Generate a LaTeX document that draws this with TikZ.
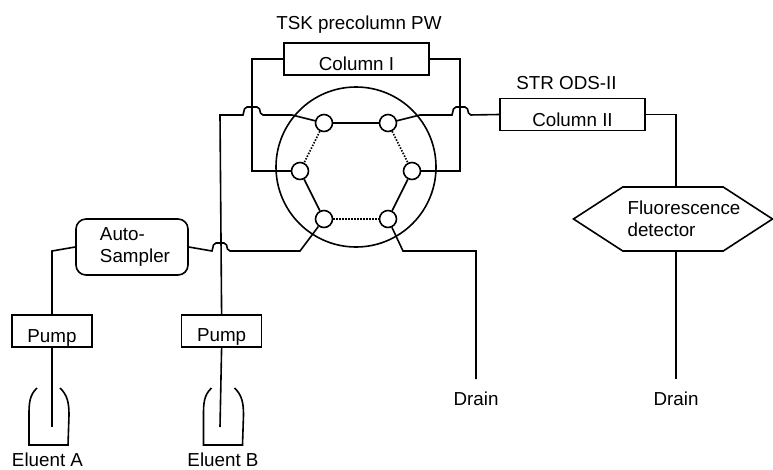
\documentclass[tikz,border=0pt]{standalone}
\usepackage{fontspec}
\setmainfont{Liberation Sans}
\usetikzlibrary{arrows.meta,positioning,shapes.symbols,calc}

\begin{document}
\begin{tikzpicture}[
  x=1pt, y=-1pt,
  font=\fontsize{18.8}{22.5}\selectfont,
  wire/.style={line width=1.6pt},
  dotline/.style={line width=1.6pt, dash pattern=on 1.5pt off 1.5pt},
  colbox/.style={draw, line width=1.6pt, minimum width=145pt, minimum height=32pt, inner sep=0pt, text height=23pt, text depth=0pt},
  pumpbox/.style={draw, line width=1.6pt, minimum width=80pt, minimum height=32pt, inner sep=0pt, text height=23pt, text depth=0pt},
  port/.style={circle, draw, line width=1.6pt, fill=white, minimum size=17pt, inner sep=0pt},
  tag/.style={inner sep=0pt},
  hop/.style={to path={[rounded corners=2pt] -- ($(\tikztostart)+(2,-8)$) -- ($(\tikztotarget)+(-2,-8)$) -- (\tikztotarget)}},
]
  \useasboundingbox (0,0) rectangle (773,469);

  % Valve
  \node[circle, draw, line width=1.6pt, minimum size=160pt, inner sep=0pt] (valve) at (356,167) {};
  \foreach \n/\x/\y in {pa/324/123, pb/388/123, pc/300/171, pd/412/171, pe/324/219, pf/388/219}
    \node[port] (\n) at (\x,\y) {};

  % Columns
  \node[colbox] (col1) at (356.5,59) {Column I};
  \node[tag, above=9pt of col1, xshift=2.5pt] (col1tag) {TSK precolumn PW};
  \node[colbox] (col2) at (572.5,114.5) {Column II};
  \node[tag, above=8pt of col2, xshift=-6pt] (col2tag) {STR ODS-II};

  % Pumps and sampler
  \node[pumpbox] (pumpA) at (52,331) {Pump};
  \node[pumpbox, right=88pt of pumpA, text height=20pt] (pumpB) {Pump};
  \node[draw, line width=1.6pt, rounded corners=10pt, minimum width=112pt, minimum height=56pt, inner sep=0pt, align=left] (samp) at (132,247) {\hspace*{6pt}Auto-\\\hspace*{6pt}Sampler};

  % Detector
  \node[signal, signal to=west and east, signal pointer angle=66, draw, line width=1.6pt, minimum width=199pt, minimum height=64pt, inner sep=0pt] (det) at (673,219) {};
  \node[tag, align=left, xshift=11pt] (dettag) at (det) {Fluorescence\\detector};

  % Drains and eluents
  \node[tag] (drain1) at (476,399) {Drain};
  \node[tag] (drain2) at (676,399) {Drain};
  \coordinate (botA) at (48.5,445);
  \coordinate (botB) at (223,445);
  \node[tag, below=7.5pt of botA, xshift=-1pt] (eluA) {Eluent A};
  \node[tag, below=7.5pt of botB] (eluB) {Eluent B};

  % Rotor
  \draw[wire] (pa) -- (pb);
  \draw[wire] (pc) -- (pe);
  \draw[wire] (pd) -- (pf);
  \draw[dotline] (pa) -- (pc);
  \draw[dotline] (pb) -- (pd);
  \draw[dotline] (pe) -- (pf);

  % Column I loop
  \draw[wire] (col1.west) -- (252,59) -- (252,171) -- (pc);
  \draw[wire] (col1.east) -- (460,59) -- (460,171) -- (pd);

  % Flow lines
  \draw[wire] (pumpA.north) -- (52,251) -- (samp.west);
  \draw[wire] (samp.east) -- (212,251) to[hop] (228,251) -- (300,251) -- (pe);
  \draw[wire] (pumpB.north) -- (220,115) -- (243,115) to[hop] (261,115) -- (292,115) -- (pa);
  \draw[wire] (pb) -- (420,115) -- (452,115) to[hop] (469,115) -- (col2.west);
  \draw[wire] (pf) -- (403,251) -- (476,251) -- (476,379);
  \draw[wire] (col2.east) -- (676,114.5) -- (676,187);
  \draw[wire] (676,251) -- (676,379);

  % Bottles
  \foreach \b/\p/\w in {botA/pumpA/52, botB/pumpB/220} {
    \draw[wire] (\p.south) -- (\w,427);
    \draw[wire] ([shift={(-11.5,-57)}]\b) .. controls ([shift={(-19,-50)}]\b) and ([shift={(-19.5,-42)}]\b) .. ([shift={(-19.5,-30)}]\b)
      -- ([shift={(-19.5,0)}]\b) -- ([shift={(19.5,0)}]\b) -- ([shift={(20.5,-30)}]\b)
      .. controls ([shift={(20.5,-42)}]\b) and ([shift={(19,-50)}]\b) .. ([shift={(11.5,-57)}]\b);
  }
\end{tikzpicture}
\end{document}
